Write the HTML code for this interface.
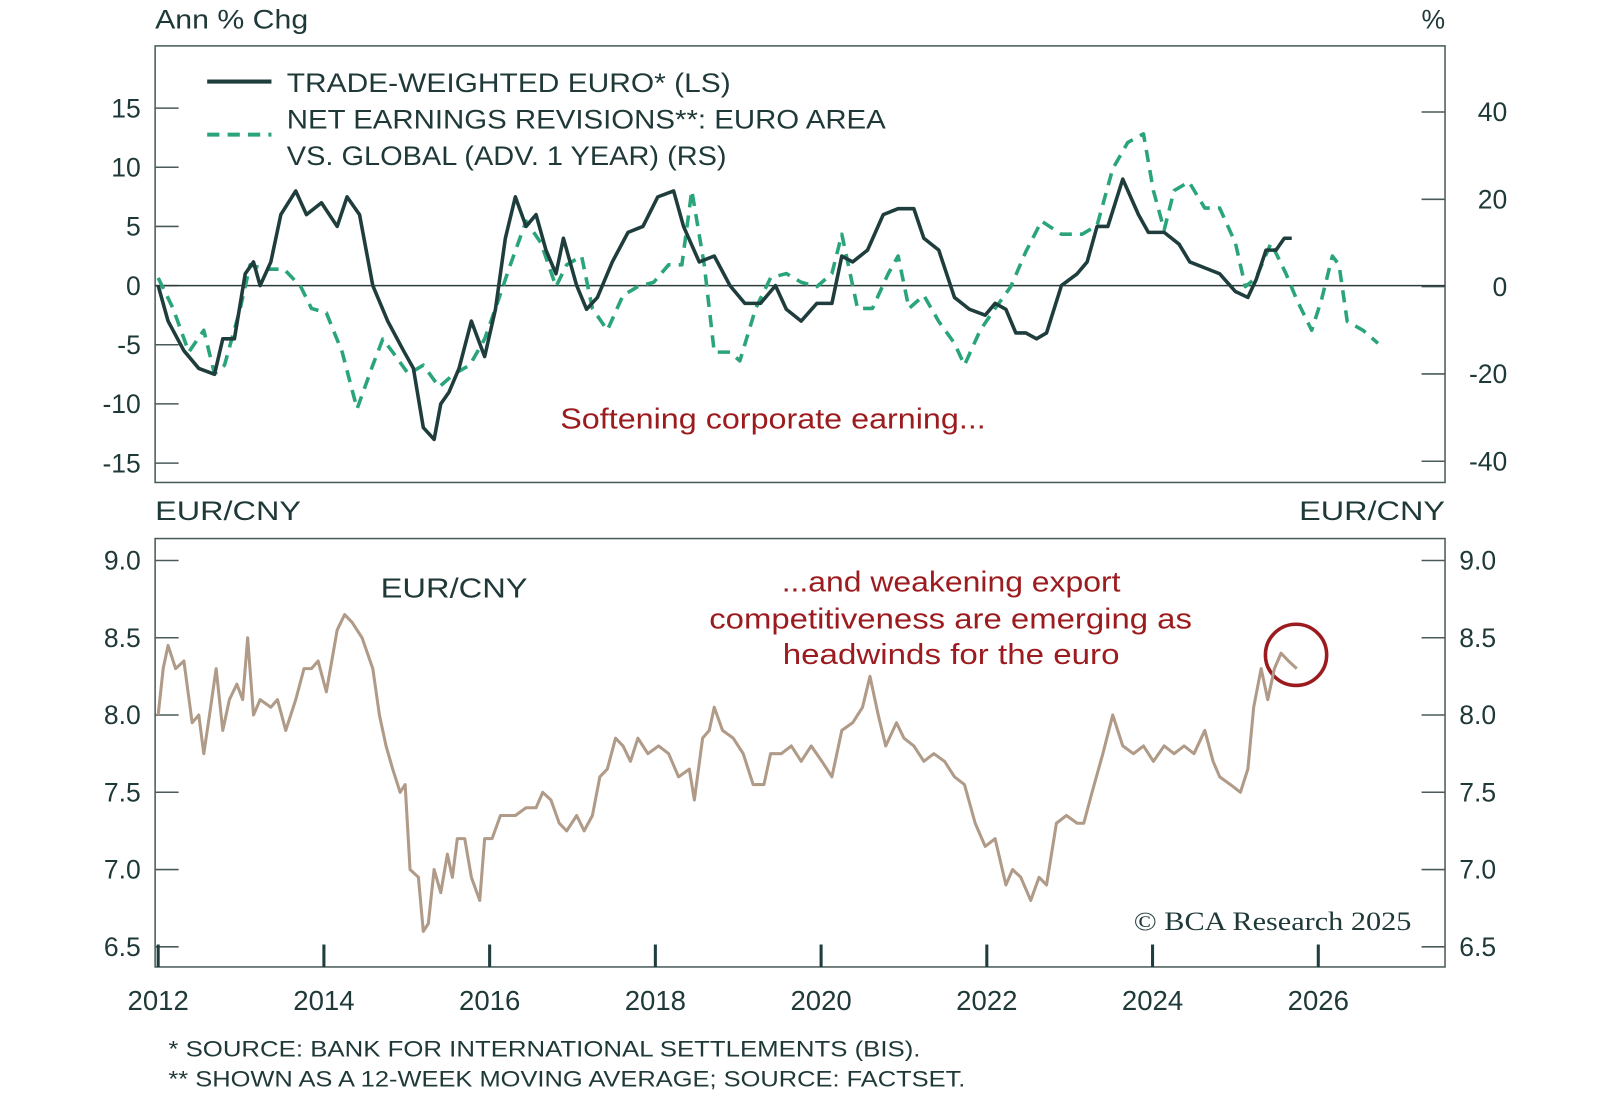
<!DOCTYPE html>
<html><head><meta charset="utf-8"><style>
body{margin:0;background:#fff}
svg text{font-family:"Liberation Sans",sans-serif}
</style></head><body>
<svg id="chart" width="1600" height="1107" xmlns="http://www.w3.org/2000/svg">
<g transform="scale(1.0205,1.02)">
<g id="static">
<text x="152" y="28" font-size="26" fill="#1f3838" textLength="150" lengthAdjust="spacingAndGlyphs">Ann % Chg</text>
<text x="1416" y="28" font-size="26" fill="#1f3838" text-anchor="end">%</text>
<rect x="152" y="45" width="1264" height="428" fill="none" stroke="#4a5a5a" stroke-width="1.5"/>
<text x="152" y="510" font-size="26" fill="#1f3838" textLength="143" lengthAdjust="spacingAndGlyphs">EUR/CNY</text>
<text x="1273" y="510" font-size="26" fill="#1f3838" textLength="143" lengthAdjust="spacingAndGlyphs">EUR/CNY</text>
<rect x="152" y="528" width="1264" height="420" fill="none" stroke="#4a5a5a" stroke-width="1.5"/>
<g>
<line x1="203" y1="80" x2="266" y2="80" stroke="#1f3d3d" stroke-width="4"/>
<text x="281" y="90" font-size="26" fill="#1f3838" textLength="435" lengthAdjust="spacingAndGlyphs">TRADE-WEIGHTED EURO* (LS)</text>
<line x1="203" y1="132" x2="266" y2="132" stroke="#2aa57a" stroke-width="4" stroke-dasharray="12,8"/>
<text x="281" y="126" font-size="26" fill="#1f3838" textLength="587" lengthAdjust="spacingAndGlyphs">NET EARNINGS REVISIONS**: EURO AREA</text>
<text x="281" y="162" font-size="26" fill="#1f3838" textLength="431" lengthAdjust="spacingAndGlyphs">VS. GLOBAL (ADV. 1 YEAR) (RS)</text>
</g>
<text x="549" y="420" font-size="28" fill="#9b1b1f" textLength="417" lengthAdjust="spacingAndGlyphs">Softening corporate earning...</text>
<text x="373" y="586" font-size="27" fill="#1f3838" textLength="144" lengthAdjust="spacingAndGlyphs">EUR/CNY</text>
<g font-size="28" fill="#9b1b1f">
<text x="766" y="580" textLength="332" lengthAdjust="spacingAndGlyphs">...and weakening export</text>
<text x="695" y="616" textLength="473" lengthAdjust="spacingAndGlyphs">competitiveness are emerging as</text>
<text x="767" y="651" textLength="330" lengthAdjust="spacingAndGlyphs">headwinds for the euro</text>
</g>
<circle cx="1270" cy="642" r="30" fill="none" stroke="#9b1b1f" stroke-width="3.5"/>
<text x="1111" y="912" font-size="26" fill="#1f3838" textLength="272" lengthAdjust="spacingAndGlyphs" style="font-family:'Liberation Serif',serif">© BCA Research 2025</text>
<text x="165" y="1036" font-size="22" fill="#1f3838" textLength="737" lengthAdjust="spacingAndGlyphs">*  SOURCE: BANK FOR INTERNATIONAL SETTLEMENTS (BIS).</text>
<text x="165" y="1065" font-size="22" fill="#1f3838" textLength="781" lengthAdjust="spacingAndGlyphs">** SHOWN AS A 12-WEEK MOVING AVERAGE; SOURCE: FACTSET.</text>
</g>
<g id="dyn"></g>
</g>
</svg>
<script>
const twDates=[2012.00,2012.12,2012.31,2012.49,2012.68,2012.78,2012.92,2013.05,2013.15,2013.23,2013.36,2013.48,2013.66,2013.79,2013.97,2014.16,2014.28,2014.43,2014.59,2014.77,2014.96,2015.08,2015.20,2015.33,2015.41,2015.51,2015.63,2015.78,2015.94,2016.07,2016.19,2016.31,2016.44,2016.56,2016.68,2016.80,2016.89,2017.05,2017.17,2017.30,2017.48,2017.67,2017.85,2018.03,2018.22,2018.34,2018.53,2018.71,2018.90,2019.08,2019.27,2019.45,2019.58,2019.76,2019.95,2020.13,2020.25,2020.38,2020.56,2020.75,2020.93,2021.12,2021.24,2021.42,2021.61,2021.79,2021.98,2022.10,2022.23,2022.35,2022.47,2022.60,2022.72,2022.90,2023.09,2023.21,2023.33,2023.46,2023.64,2023.83,2023.95,2024.14,2024.32,2024.45,2024.63,2024.81,2025.00,2025.15,2025.25,2025.37,2025.49,2025.59,2025.68];
const twValues=[0,-3,-5.5,-7,-7.5,-4.5,-4.5,1,2,0,2,6,8,6,7,5,7.5,6,0,-3,-5.5,-7,-12,-13,-10,-9,-7,-3,-6,-2,4,7.5,5,6,3,1,4,0,-2,-1,2,4.5,5,7.5,8,5,2,2.5,0,-1.5,-1.5,0,-2,-3,-1.5,-1.5,2.5,2,3,6,6.5,6.5,4,3,-1,-2,-2.5,-1.5,-2,-4,-4,-4.5,-4,0,1,2,5,5,9,6,4.5,4.5,3.5,2,1.5,1,-0.5,-1,0.5,3,3,4,4];
const erDates=[2012.00,2012.18,2012.37,2012.55,2012.68,2012.80,2012.99,2013.11,2013.29,2013.52,2013.72,2013.85,2014.03,2014.22,2014.40,2014.59,2014.71,2014.83,2015.02,2015.20,2015.39,2015.57,2015.76,2015.94,2016.07,2016.25,2016.44,2016.62,2016.80,2016.93,2017.11,2017.24,2017.42,2017.61,2017.79,2017.98,2018.16,2018.32,2018.44,2018.59,2018.71,2018.90,2019.02,2019.21,2019.39,2019.58,2019.76,2019.95,2020.13,2020.25,2020.44,2020.62,2020.81,2020.93,2021.06,2021.24,2021.42,2021.61,2021.73,2021.92,2022.10,2022.29,2022.47,2022.66,2022.90,2023.15,2023.33,2023.52,2023.70,2023.89,2024.01,2024.14,2024.26,2024.44,2024.63,2024.81,2025.00,2025.12,2025.25,2025.43,2025.61,2025.74,2025.92,2026.04,2026.17,2026.25,2026.35,2026.54,2026.72];
const erValues=[2,-5,-15,-10,-20,-18,-5,5,4,4,0,-5,-6,-15,-28,-18,-12,-15,-20,-18,-23,-20,-18,-12,-5,5,15,10,0,5,7,-5,-10,-2,0,1,5,5,22,5,-15,-15,-17,-5,2,3,1,0,3,12,-5,-5,3,7,-5,-2,-8,-13,-18,-10,-5,0,8,15,12,12,14,27,33,35,22,13,22,24,18,18,10,0,2,10,3,-3,-10,-3,7,5,-8,-10,-13];
const fxDates=[2012.00,2012.06,2012.12,2012.21,2012.31,2012.41,2012.49,2012.55,2012.62,2012.70,2012.78,2012.86,2012.95,2013.02,2013.08,2013.15,2013.23,2013.36,2013.44,2013.54,2013.66,2013.76,2013.85,2013.93,2014.03,2014.16,2014.25,2014.34,2014.46,2014.59,2014.67,2014.75,2014.83,2014.92,2014.98,2015.04,2015.14,2015.20,2015.26,2015.33,2015.41,2015.49,2015.55,2015.61,2015.70,2015.78,2015.88,2015.94,2016.03,2016.13,2016.23,2016.31,2016.44,2016.56,2016.64,2016.74,2016.84,2016.93,2017.05,2017.14,2017.24,2017.33,2017.42,2017.52,2017.61,2017.70,2017.79,2017.91,2018.04,2018.16,2018.28,2018.41,2018.47,2018.57,2018.65,2018.71,2018.81,2018.94,2019.06,2019.18,2019.31,2019.39,2019.52,2019.64,2019.76,2019.88,2020.01,2020.13,2020.25,2020.38,2020.50,2020.59,2020.69,2020.78,2020.91,2021.00,2021.12,2021.24,2021.36,2021.49,2021.61,2021.73,2021.86,2021.98,2022.10,2022.23,2022.31,2022.41,2022.53,2022.63,2022.72,2022.84,2022.96,2023.09,2023.17,2023.27,2023.40,2023.52,2023.64,2023.77,2023.89,2024.01,2024.14,2024.26,2024.38,2024.50,2024.63,2024.73,2024.81,2024.94,2025.06,2025.15,2025.22,2025.31,2025.39,2025.47,2025.55,2025.64,2025.74];
const fxValues=[8.0,8.3,8.45,8.3,8.35,7.95,8.0,7.75,8.0,8.3,7.9,8.1,8.2,8.1,8.5,8.0,8.1,8.05,8.1,7.9,8.1,8.3,8.3,8.35,8.15,8.55,8.65,8.6,8.5,8.3,8.0,7.8,7.65,7.5,7.55,7.0,6.95,6.6,6.65,7.0,6.85,7.1,6.95,7.2,7.2,6.95,6.8,7.2,7.2,7.35,7.35,7.35,7.4,7.4,7.5,7.45,7.3,7.25,7.35,7.25,7.35,7.6,7.65,7.85,7.8,7.7,7.85,7.75,7.8,7.75,7.6,7.65,7.45,7.85,7.9,8.05,7.9,7.85,7.75,7.55,7.55,7.75,7.75,7.8,7.7,7.8,7.7,7.6,7.9,7.95,8.05,8.25,8.0,7.8,7.95,7.85,7.8,7.7,7.75,7.7,7.6,7.55,7.3,7.15,7.2,6.9,7.0,6.95,6.8,6.95,6.9,7.3,7.35,7.3,7.3,7.5,7.75,8.0,7.8,7.75,7.8,7.7,7.8,7.75,7.8,7.75,7.9,7.7,7.6,7.55,7.5,7.65,8.05,8.3,8.1,8.3,8.4,8.35,8.3];
const leftTicks=[15,10,5,0,-5,-10,-15];
const rightTicks=[40,20,0,-20,-40];
const fxTicks=[9.0,8.5,8.0,7.5,7.0,6.5];
const yearTicks=[2012,2014,2016,2018,2020,2022,2024,2026];

const NS='http://www.w3.org/2000/svg';
const dyn=document.getElementById('dyn');
const X=y=>155+(y-2012)*81.2;
const YL=v=>280-v*11.6;
const YR=v=>281-v*4.28;
const YB=v=>701-(v-8)*151.5;
function mk(tag,attrs){const e=document.createElementNS(NS,tag);for(const k in attrs)e.setAttribute(k,attrs[k]);dyn.appendChild(e);return e;}
function txt(x,y,s,anchor){const e=mk('text',{x:x,y:y,'font-size':26,fill:'#1f3838','text-anchor':anchor});e.textContent=s;return e;}

leftTicks.forEach(v=>{
 const l=mk('line',{x1:152,x2:175,y1:YL(v),y2:YL(v),stroke:'#4a5a5a','stroke-width':1.5});
 
 
 const t=txt(138,YL(v)+9,String(v),'end');
 
 
});
rightTicks.forEach(v=>{
 const l=mk('line',{x1:1393,x2:1416,y1:YR(v),y2:YR(v),stroke:'#4a5a5a','stroke-width':1.5});
 
 
 const t=txt(1477,YR(v)+9,String(v),'end');
 
 
});
fxTicks.forEach(v=>{
 const l=mk('line',{x1:152,x2:175,y1:YB(v),y2:YB(v),stroke:'#4a5a5a','stroke-width':1.5});
 
 
 const t=txt(138,YB(v)+9,v.toFixed(1),'end');
 
 
 const r=mk('line',{x1:1393,x2:1416,y1:YB(v),y2:YB(v),stroke:'#4a5a5a','stroke-width':1.5});
 
 
 const t2=txt(1430,YB(v)+9,v.toFixed(1),'start');
 
 
});
yearTicks.forEach(y=>{
 const l=mk('line',{x1:X(y),x2:X(y),y1:948,y2:926,stroke:'#1f3d3d','stroke-width':3});
 
 
 const t=txt(X(y),990,String(y),'middle');
 t.setAttribute('font-size','27');
 
 
});
const z=mk('line',{x1:152,x2:1416,y1:YL(0),y2:YL(0),stroke:'#2b3b3b','stroke-width':1.5});



function path(ds,vs,fy){return ds.map((d,i)=>(i?'L':'M')+X(d).toFixed(1)+','+fy(vs[i]).toFixed(1)).join(' ');}
const er=mk('path',{d:path(erDates,erValues,YR),fill:'none',stroke:'#2aa57a','stroke-width':3.5,'stroke-dasharray':'12,8','stroke-linejoin':'round'});


const tw=mk('path',{d:path(twDates,twValues,YL),fill:'none',stroke:'#1f3d3d','stroke-width':3.5,'stroke-linejoin':'round'});


const fx=mk('path',{d:path(fxDates,fxValues,YB),fill:'none',stroke:'#b09a88','stroke-width':3,'stroke-linejoin':'round'});


</script>
</body></html>
